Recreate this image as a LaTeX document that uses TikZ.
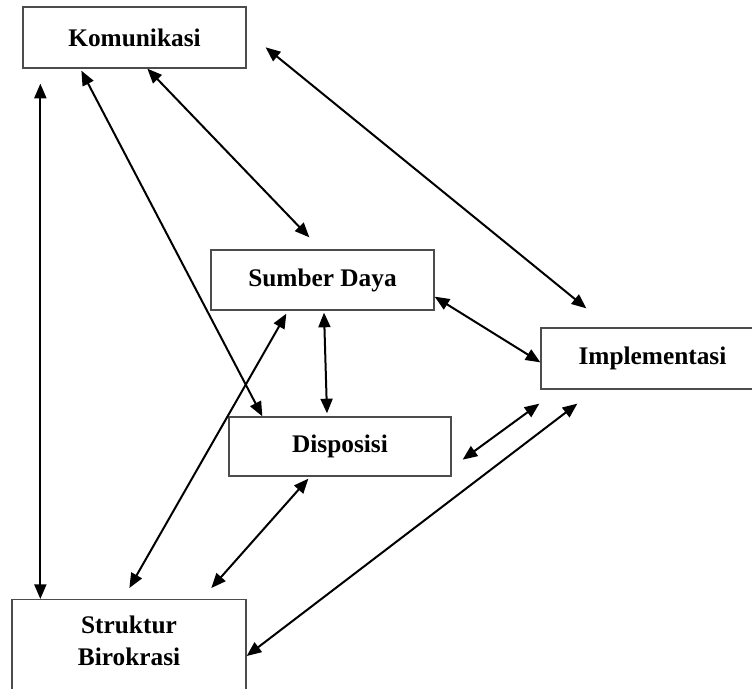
\documentclass[tikz,border=0pt]{standalone}
\usepackage{fontspec}
\setmainfont{Liberation Serif}
\usetikzlibrary{calc, arrows.meta}
\newdimen\px \px=0.75pt
\tikzset{
  box/.style={draw=black!70, line width=1.3\px, minimum width=223\px, minimum height=61\px,
    inner sep=0pt, font=\bfseries\fontsize{19}{24}\selectfont},
  lbl/.style={font=\bfseries\fontsize{19}{24}\selectfont, align=center},
  biarrow/.style={{Triangle[length=11pt,width=9pt]}-{Triangle[length=11pt,width=9pt]}, line width=2\px}
}

\begin{document}
\begin{tikzpicture}[x=0.75pt, y=-0.75pt]
                \useasboundingbox (0,0) rectangle (752,688);
                \node[box] (kom) at (134.5,37.5) {Komunikasi};
                \node[box, minimum height=60\px] (sd) at (322.5,280) {Sumber Daya};
                \node[box] (imp) at (652.5,358.5) {Implementasi};
                \node[box, minimum width=222\px, minimum height=59\px] (dis) at (340,446.5) {Disposisi};
                \node[box, minimum width=234\px, minimum height=100\px, anchor=north] (sb) at (129,599) {};
                \node[lbl] (sbtext) at ($(sb.north)+(0,42)$) {Struktur\\Birokrasi};
                % free ends of the connectors
                \coordinate (k1) at ($(kom.south west)+(18,15)$);
                \coordinate (k2) at ($(kom.south west)+(59,2)$);
                \coordinate (k3) at ($(kom.south west)+(125,0)$);
                \coordinate (k4) at ($(kom.north east)+(19,41)$);
                \coordinate (s3) at ($(sd.north west)+(99,-12)$);
                \coordinate (i4) at ($(imp.north west)+(46,-19)$);
                \coordinate (i8) at ($(imp.south west)+(-1,14)$);
                \coordinate (i10) at ($(imp.south west)+(37,14)$);
                \coordinate (d8) at ($(dis.south east)+(11,-17)$);
                \coordinate (b7) at ($(sb.north west)+(118,-11)$);
                \coordinate (b9) at ($(sb.north west)+(200,-11)$);
                % connectors
                \draw[biarrow] (k1) -- (k1 |- sb.north);
                \draw[biarrow] (k2) -- ($(dis.north west)+(34,0)$);
                \draw[biarrow] (k3) -- (s3);
                \draw[biarrow] (k4) -- (i4);
                \draw[biarrow] ($(sd.south east)+(0,-14)$) -- ($(imp.north west)+(0,35)$);
                \draw[biarrow] ($(sd.south)+(1.5,2)$) -- ($(dis.north)+(-13,-3)$);
                \draw[biarrow] ($(sd.south west)+(76,3)$) -- (b7);
                \draw[biarrow] (i8) -- (d8);
                \draw[biarrow] ($(dis.south west)+(80,2)$) -- (b9);
                \draw[biarrow] (i10) -- ($(sb.north east)+(0,57)$);
            \end{tikzpicture}
\end{document}
